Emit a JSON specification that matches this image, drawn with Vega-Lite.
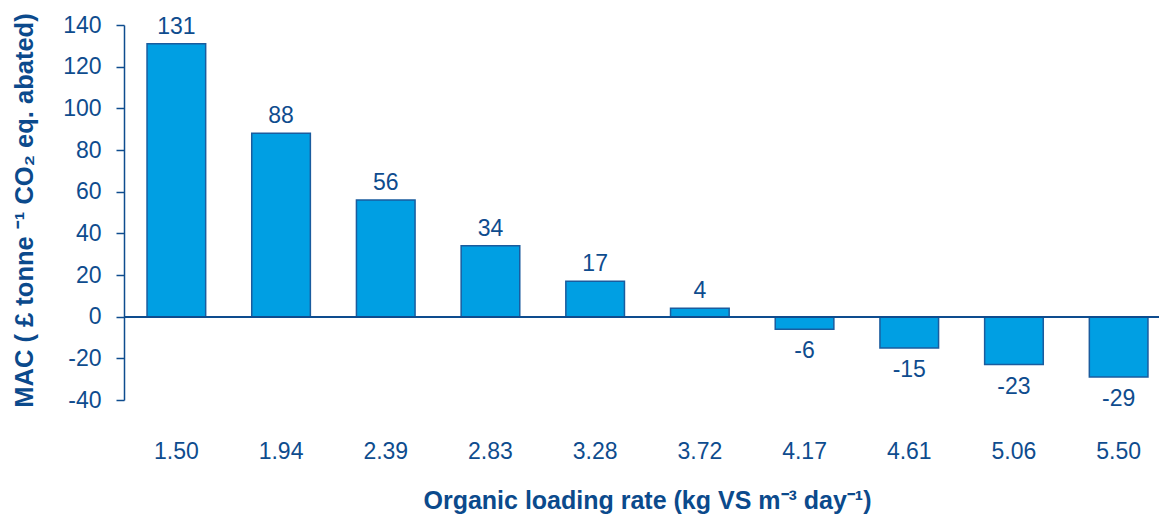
{
  "$schema": "https://vega.github.io/schema/vega-lite/v6.json",
  "autosize": "none",
  "width": 1035,
  "height": 375,
  "padding": {"left": 124, "top": 25, "right": 0, "bottom": 115},
  "background": "white",
  "config": {
    "view": {"stroke": null},
    "font": "Liberation Sans"
  },
  "data": {
    "values": [
      {"rate": "1.50", "mac": 131},
      {"rate": "1.94", "mac": 88},
      {"rate": "2.39", "mac": 56},
      {"rate": "2.83", "mac": 34},
      {"rate": "3.28", "mac": 17},
      {"rate": "3.72", "mac": 4},
      {"rate": "4.17", "mac": -6},
      {"rate": "4.61", "mac": -15},
      {"rate": "5.06", "mac": -23},
      {"rate": "5.50", "mac": -29}
    ]
  },
  "encoding": {
    "x": {
      "field": "rate",
      "type": "ordinal",
      "sort": null,
      "scale": {"range": [0, 1047], "paddingInner": 0.44, "paddingOuter": 0.22},
      "axis": {
        "title": "Organic loading rate (kg VS m⁻³ day⁻¹)",
        "titleFont": "Liberation Sans",
        "titleFontSize": 25,
        "titleFontWeight": "bold",
        "titleColor": "#0B4A8C",
        "titlePadding": 25,
        "titleX": 523,
        "labelAngle": 0,
        "labelFont": "Liberation Sans",
        "labelFontSize": 23,
        "labelColor": "#0E4C8E",
        "labelPadding": 40,
        "ticks": false,
        "domain": false,
        "grid": false
      }
    }
  },
  "layer": [
    {
      "mark": {"type": "bar", "color": "#009FE3", "stroke": "#1A5C9E", "strokeWidth": 1.5, "clip": false},
      "encoding": {
        "y": {
          "field": "mac",
          "type": "quantitative",
          "scale": {"domain": [-40, 140], "nice": false, "zero": false},
          "axis": {
            "title": "MAC ( £ tonne ⁻¹ CO₂ eq. abated)",
            "titleFont": "Liberation Sans",
            "titleFontSize": 25.5,
            "titleFontWeight": "bold",
            "titleColor": "#0B4A8C",
            "titlePadding": 25,
            "titleY": 185,
            "values": [-40, -20, 0, 20, 40, 60, 80, 100, 120, 140],
            "labelExpr": "toString(datum.value)",
            "labelFont": "Liberation Sans",
            "labelFontSize": 23,
            "labelColor": "#0E4C8E",
            "labelPadding": 15,
            "tickSize": 8,
            "tickColor": "#0E4C8E",
            "tickWidth": 1.5,
            "domainColor": "#0E4C8E",
            "domainWidth": 1.5,
            "grid": false
          }
        }
      }
    },
    {
      "mark": {"type": "rule", "color": "#0E4C8E", "strokeWidth": 1.5},
      "encoding": {"y": {"datum": 0, "type": "quantitative"}, "x": null}
    },
    {
      "transform": [{"filter": "datum.mac >= 0"}],
      "mark": {"type": "text", "baseline": "alphabetic", "dy": -10, "fontSize": 23, "color": "#0E4C8E", "font": "Liberation Sans"},
      "encoding": {
        "y": {"field": "mac", "type": "quantitative"},
        "text": {"field": "mac", "type": "nominal"}
      }
    },
    {
      "transform": [{"filter": "datum.mac < 0"}],
      "mark": {"type": "text", "baseline": "alphabetic", "dy": 29, "fontSize": 23, "color": "#0E4C8E", "font": "Liberation Sans"},
      "encoding": {
        "y": {"field": "mac", "type": "quantitative"},
        "text": {"field": "mac", "type": "nominal"}
      }
    }
  ]
}
